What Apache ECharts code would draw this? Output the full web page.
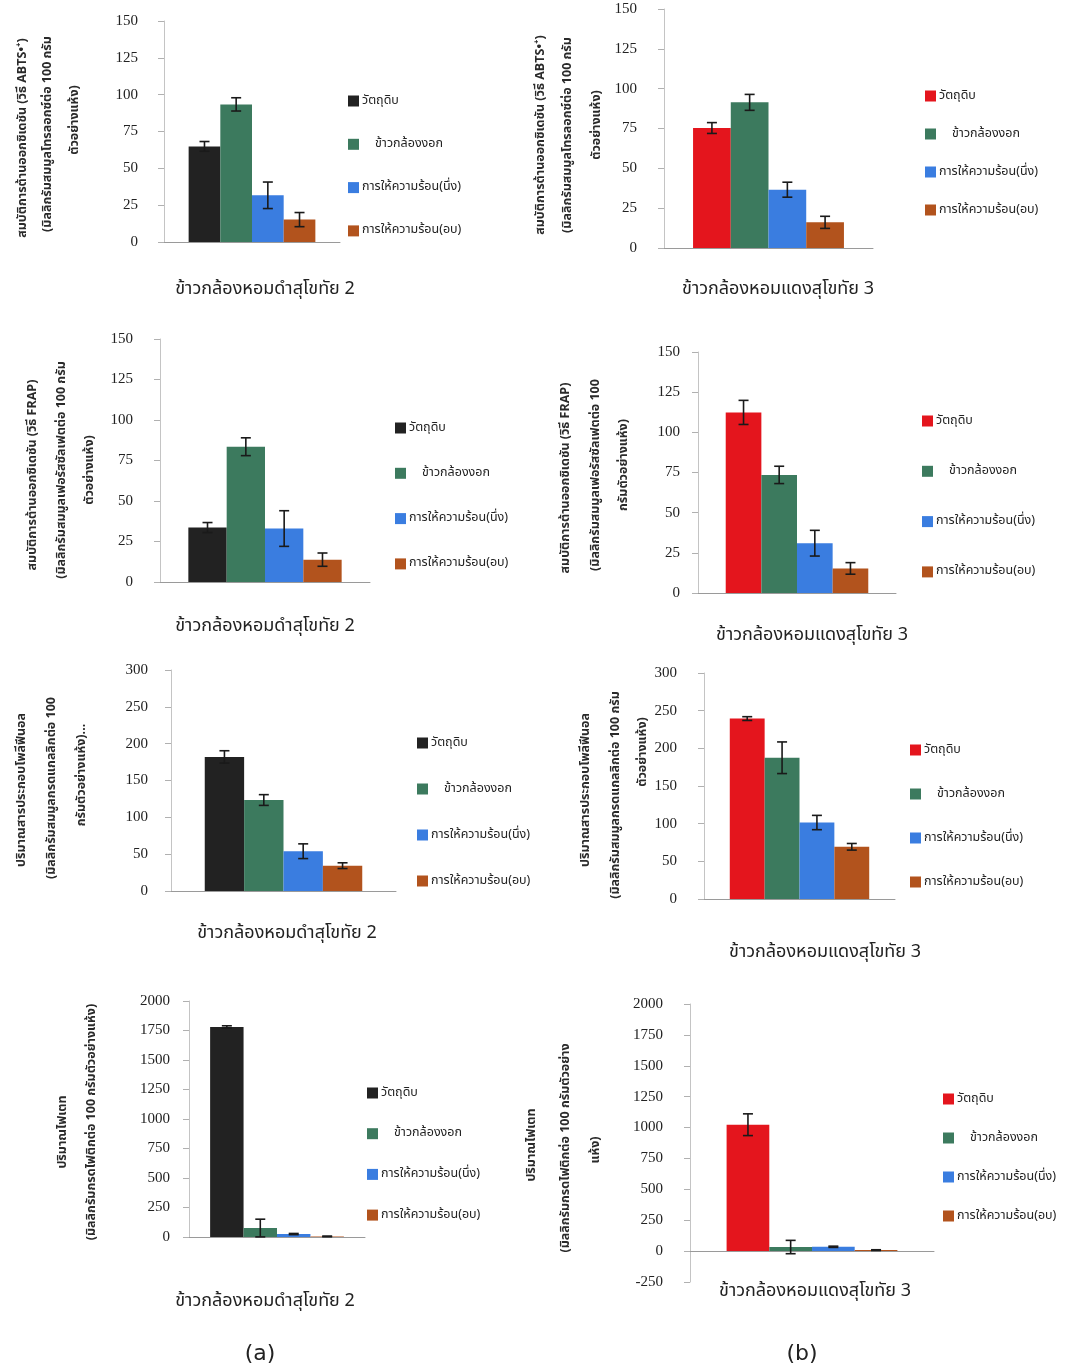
<!DOCTYPE html>
<html>
<head>
<meta charset="utf-8">
<script src="https://cdn.jsdelivr.net/npm/echarts@6/dist/echarts.min.js"></script>
<style>
  html, body { margin: 0; padding: 0; background: #fff; }
  #chart { width: 1085px; height: 1370px; }
</style>
</head>
<body>
<div id="chart"></div>
<script>
// กลุ่มตัวอย่าง (legend)
const groups = ["วัตถุดิบ", "ข้าวกล้องงอก", "การให้ความร้อน(นึ่ง)", "การให้ความร้อน(อบ)"];

// ABTS
const abtsDam = [64.9, 93.4, 31.7, 15.2];
const abtsDamErr = [3.3, 4.5, 9, 4.8];
const abtsDaeng = [75.3, 91.4, 36.6, 16.1];
const abtsDaengErr = [3.4, 5, 4.7, 3.8];
// FRAP
const frapDam = [33.6, 83.5, 33, 13.8];
const frapDamErr = [3.1, 5.5, 11, 4.1];
const frapDaeng = [112.4, 73.5, 31, 15.3];
const frapDaengErr = [7.5, 5.4, 8, 3.6];
// โพลีฟีนอล
const phenolDam = [182, 123.5, 54, 34.4];
const phenolDamErr = [8.4, 7.3, 10, 3.9];
const phenolDaeng = [239.5, 187.5, 101.5, 69.3];
const phenolDaengErr = [2.5, 21, 9.5, 4.4];
// ไฟเตท
const phytateDam = [1780, 76, 25, 5];
const phytateDamErr = [10, 75, 5, 3];
const phytateDaeng = [1023, 33, 35, 8];
const phytateDaengErr = [88, 54, 5, 3];

// ticks [min, max, step]
const ticks150 = [0, 150, 25];
const ticks300 = [0, 300, 50];
const ticks2000 = [0, 2000, 250];
const ticks2000neg = [-250, 2000, 250];

const xNameDam = "ข้าวกล้องหอมดำสุโขทัย 2";
const xNameDaeng = "ข้าวกล้องหอมแดงสุโขทัย 3";

const abtsL1 = "สมบัติการต้านออกซิเดชัน (วิธี ABTS•⁺)";
const abtsL2 = "(มิลลิกรัมสมมูลโทรลอกซ์ต่อ 100 กรัม";
const frapL1 = "สมบัติการต้านออกซิเดชัน (วิธี FRAP)";
const phenolL1 = "ปริมาณสารประกอบโพลีฟีนอล";
const phytateL1 = "ปริมาณไฟเตท";

const darkColors = ["#222222", "#3c7a5e", "#3a7de0", "#b2531d"];
const redColors = ["#e4151d", "#3c7a5e", "#3a7de0", "#b2531d"];

const thaiFont = "'Noto Sans Thai', 'Noto Serif Thai', 'Tlwg Typo', Garuda, Loma, 'Noto Sans', sans-serif";

const panels = [
  { vals: abtsDam, errs: abtsDamErr, ticks: ticks150, colors: darkColors,
    grid: [164, 21, 176, 221], gap: 28, margin: 26,
    legend: [343, 96, 43.3],
    xName: [265, 290, xNameDam],
    yName: [[23, 138, abtsL1], [48, 134, abtsL2], [75, 120, "ตัวอย่างแห้ง)"]] },
  { vals: abtsDaeng, errs: abtsDaengErr, ticks: ticks150, colors: redColors,
    grid: [664, 9, 209, 239], gap: 27.8, margin: 27,
    legend: [920, 91, 38],
    xName: [778, 290, xNameDaeng],
    yName: [[541, 135, abtsL1], [568, 135, abtsL2], [597, 125, "ตัวอย่างแห้ง)"]] },
  { vals: frapDam, errs: frapDamErr, ticks: ticks150, colors: darkColors,
    grid: [160, 339, 210, 243], gap: 27, margin: 27,
    legend: [390, 423, 45.3],
    xName: [265, 627, xNameDam],
    yName: [[33, 475, frapL1], [62, 470, "(มิลลิกรัมสมมูลเฟอรัสซัลเฟตต่อ 100 กรัม"], [90, 470, "ตัวอย่างแห้ง)"]] },
  { vals: frapDaeng, errs: frapDaengErr, ticks: ticks150, colors: redColors,
    grid: [698, 352, 198, 241], gap: 28, margin: 18,
    legend: [917, 416, 50.3],
    xName: [812, 636, xNameDaeng],
    yName: [[566, 478, frapL1], [596, 475, "(มิลลิกรัมสมมูลเฟอรัสซัลเฟตต่อ 100"], [624, 465, "กรัมตัวอย่างแห้ง)"]] },
  { vals: phenolDam, errs: phenolDamErr, ticks: ticks300, colors: darkColors,
    grid: [171, 670, 225, 221], gap: 30, margin: 23,
    legend: [412, 738, 46],
    xName: [287, 934, xNameDam],
    yName: [[22, 790, phenolL1], [52, 788, "(มิลลิกรัมสมมูลกรดแกลลิกต่อ 100"], [82, 775, "กรัมตัวอย่างแห้ง)..."]] },
  { vals: phenolDaeng, errs: phenolDaengErr, ticks: ticks300, colors: redColors,
    grid: [704, 673, 191, 226], gap: 27, margin: 27,
    legend: [905, 745, 44],
    xName: [825, 953, xNameDaeng],
    yName: [[586, 790, phenolL1], [616, 795, "(มิลลิกรัมสมมูลกรดแกลลิกต่อ 100 กรัม"], [643, 752, "ตัวอย่างแห้ง)"]] },
  { vals: phytateDam, errs: phytateDamErr, ticks: ticks2000, colors: darkColors,
    grid: [189, 1001, 176, 236], gap: 24, margin: 19,
    legend: [362, 1088, 40.7],
    xName: [265, 1302, xNameDam],
    yName: [[63, 1132, phytateL1], [92, 1122, "(มิลลิกรัมกรดไฟติกต่อ 100 กรัมตัวอย่างแห้ง)"]] },
  { vals: phytateDaeng, errs: phytateDaengErr, ticks: ticks2000neg, colors: redColors,
    grid: [690, 1004, 244, 278], gap: 30, margin: 27,
    legend: [938, 1094, 39],
    xName: [815, 1292, xNameDaeng],
    yName: [[532, 1145, phytateL1], [566, 1148, "(มิลลิกรัมกรดไฟติกต่อ 100 กรัมตัวอย่าง"], [596, 1150, "แห้ง)"]] }
];

const grids = [], xAxes = [], yAxes = [], series = [], legends = [], graphics = [];

panels.forEach((p, k) => {
  grids.push({ left: p.grid[0], top: p.grid[1], width: p.grid[2], height: p.grid[3] });
  xAxes.push({
    type: "category", gridIndex: k, data: [""],
    axisTick: { show: false }, axisLabel: { show: false },
    axisLine: { lineStyle: { color: "#9a9a9a", width: 1 } }
  });
  yAxes.push({
    type: "value", gridIndex: k,
    min: p.ticks[0], max: p.ticks[1], interval: p.ticks[2],
    splitLine: { show: false },
    axisLine: { show: true, lineStyle: { color: "#c4c4c4", width: 1 } },
    axisTick: { show: true, length: 6, lineStyle: { color: "#b0b0b0" } },
    axisLabel: {
      fontFamily: "'Liberation Serif', serif", fontSize: 15, color: "#222", margin: p.margin,
      formatter: v => String(v)
    }
  });
  const names = [];
  groups.forEach((g, i) => {
    const nm = g + "|" + k;
    names.push(nm);
    series.push({
      type: "bar", name: nm, xAxisIndex: k, yAxisIndex: k,
      data: [p.vals[i]],
      barGap: "0%", barCategoryGap: p.gap + "%",
      itemStyle: { color: p.colors[i] },
      emphasis: { disabled: true }
    });
  });
  // error bars
  const gapRatio = p.gap / 100;
  series.push({
    type: "custom", xAxisIndex: k, yAxisIndex: k, z: 10, silent: true,
    data: p.vals.map((v, i) => [0, v, p.errs[i], i]),
    encode: { x: 0, y: 1 },
    renderItem: function (params, api) {
      const val = api.value(1), err = api.value(2), idx = api.value(3);
      const band = api.size([1, 0])[0];
      const barW = band * (1 - gapRatio) / 4;
      const c = api.coord([0, val]);
      const x = c[0] - barW * 2 + barW * (idx + 0.5);
      const yTop = api.coord([0, val + err])[1];
      const yBot = api.coord([0, val - err])[1];
      const cap = 5;
      const st = { stroke: "#1a1a1a", lineWidth: 1.6 };
      return {
        type: "group",
        children: [
          { type: "line", shape: { x1: x, y1: yTop, x2: x, y2: yBot }, style: st },
          { type: "line", shape: { x1: x - cap, y1: yTop, x2: x + cap, y2: yTop }, style: st },
          { type: "line", shape: { x1: x - cap, y1: yBot, x2: x + cap, y2: yBot }, style: st }
        ]
      };
    }
  });
  const lineH = 14;
  legends.push({
    orient: "vertical", left: p.legend[0], top: p.legend[1] - lineH / 2,
    itemWidth: 11, itemHeight: 11, icon: "rect",
    itemGap: p.legend[2] - lineH,
    selectedMode: false,
    data: names,
    formatter: function (n) {
      const g = n.split("|")[0];
      return g === groups[1] ? "    " + g : g;
    },
    textStyle: { fontFamily: thaiFont, fontSize: 12.5, color: "#222", lineHeight: lineH, padding: [0, 0, 0, -2] }
  });
  graphics.push({
    type: "text", x: p.xName[0], y: p.xName[1],
    style: { text: p.xName[2], fontFamily: thaiFont, fontSize: 18, fill: "#222", align: "center", verticalAlign: "middle" }
  });
  p.yName.forEach(t => {
    graphics.push({
      type: "text", x: t[0], y: t[1], rotation: Math.PI / 2,
      style: { text: t[2], fontFamily: thaiFont, fontSize: 12.5, fontWeight: "bold", fill: "#2a2a2a", align: "center", verticalAlign: "middle" }
    });
  });
});

graphics.push({ type: "text", x: 260, y: 1354, style: { text: "(a)", fontFamily: "'DejaVu Sans', sans-serif", fontSize: 22, fill: "#222", align: "center", verticalAlign: "middle" } });
graphics.push({ type: "text", x: 802, y: 1354, style: { text: "(b)", fontFamily: "'DejaVu Sans', sans-serif", fontSize: 22, fill: "#222", align: "center", verticalAlign: "middle" } });

const chart = echarts.init(document.getElementById("chart"));
chart.setOption({
  backgroundColor: "#ffffff",
  animation: false,
  grid: grids,
  xAxis: xAxes,
  yAxis: yAxes,
  legend: legends,
  series: series,
  graphic: graphics
});
</script>
</body>
</html>
